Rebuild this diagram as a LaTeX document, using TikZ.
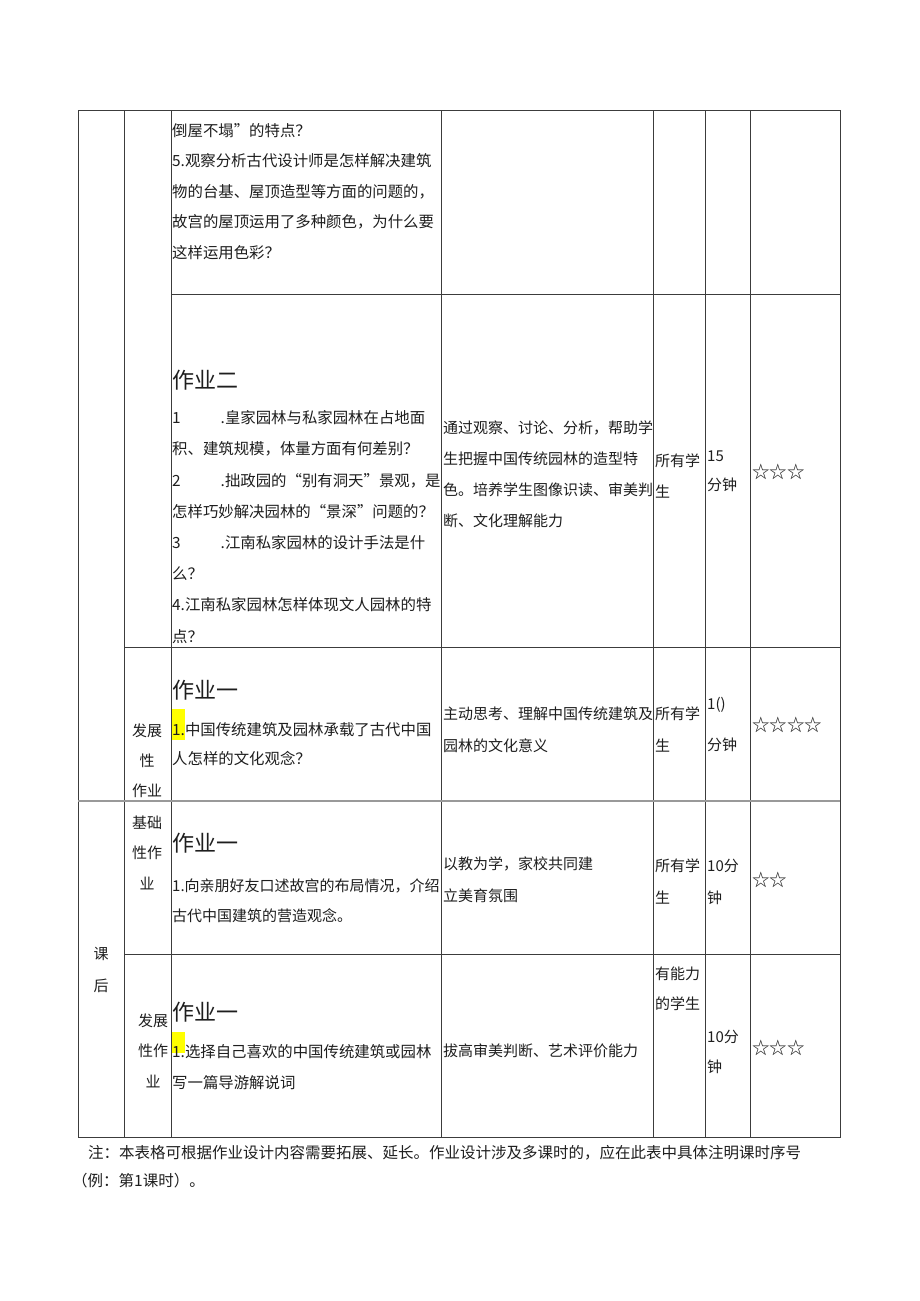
\documentclass[tikz,border=0pt]{standalone}
\usepackage{fontspec}
\setmainfont{Noto Sans CJK SC}
\definecolor{ink}{HTML}{1E1E1E}
\definecolor{rule}{HTML}{3C3C3C}
\definecolor{hilite}{HTML}{FFFF00}
\tikzset{
  cell/.style={anchor=base west, align=left, inner sep=0pt, text=ink,
    font=\fontsize{15}{31}\selectfont},
  lead/.style={font=\fontsize{15}{#1}\selectfont},
  task/.style={font=\fontsize{15.4}{#1}\selectfont},
  side/.style={anchor=base, align=center, inner sep=0pt, text=ink,
    font=\fontsize{15}{30.5}\selectfont},
  head/.style={anchor=base west, inner sep=0pt, text=ink,
    font=\fontsize{22}{24}\selectfont},
  rate/.style={anchor=base west, inner sep=0pt, text=ink,
    font=\fontsize{17.5}{20}\selectfont},
  grid/.style={draw=rule, line width=1pt}
}
\begin{document}
\begin{tikzpicture}[x=1pt, y=-1pt]
  \useasboundingbox (0,0) rectangle (920,1301);
  \fill[white] (0,0) rectangle (920,1301);
  % highlights
  \fill[fill=hilite] (172,709) rectangle (185,740);
  \fill[fill=hilite] (172,1032) rectangle (185,1053);
  % table rules
  \draw[grid] (78,110) rectangle (840,1137);
  \foreach \x in {124,171,441,653,705,750}
    \draw[grid] (\x,110) -- (\x,1137);
  \draw[grid] (171,294) -- (840,294);
  \draw[grid] (124,647) -- (840,647);
  \draw[draw=gray!80, line width=2pt] (78,801) -- (840,801);
  \draw[grid] (124,954) -- (840,954);

  % first row
  \node[cell, task=30.5] (q5) at (172,258)
    {倒屋不塌”的特点？\\5.观察分析古代设计师是怎样解决建筑\\物的台基、屋顶造型等方面的问题的，\\故宫的屋顶运用了多种颜色，为什么要\\这样运用色彩？};

  % second row
  \node[head] (h2) at (172,388) {作业二};
  \node[cell, task=31.2] (q2) at (172,642)
    {1\hspace{40pt}.皇家园林与私家园林在占地面\\积、建筑规模，体量方面有何差别？\\2\hspace{40pt}.拙政园的“别有洞天”景观，是\\怎样巧妙解决园林的“景深”问题的？\\3\hspace{40pt}.江南私家园林的设计手法是什\\么？\\4.江南私家园林怎样体现文人园林的特\\点？};
  \node[cell, lead=30.7] (g2) at (443,526)
    {通过观察、讨论、分析，帮助学\\生把握中国传统园林的造型特\\色。培养学生图像识读、审美判\\断、文化理解能力};
  \node[cell] (w2) at (655,497) {所有学\\生};
  \node[cell, lead=29] (t2) at (707,490) {15\\分钟};
  \node[rate] (s2) at (752,478) {☆☆☆};

  % third row
  \node[side, lead=30] (k3) at (147,796) {发展\\性\\作业};
  \node[head] (h3) at (172,698) {作业一};
  \node[cell, task=29.5] (q3) at (172,764.5)
    {1.中国传统建筑及园林承载了古代中国\\人怎样的文化观念？};
  \node[cell, lead=32] (g3) at (443,751) {主动思考、理解中国传统建筑及\\园林的文化意义};
  \node[cell, lead=32] (w3) at (655,751) {所有学\\生};
  \node[cell, lead=41] (t3) at (707,750) {1()\\分钟};
  \node[rate] (s3) at (752,731) {☆☆☆☆};

  % after class
  \node[side, lead=32] (kh) at (101,991) {课\\后};

  \node[side] (k4) at (147,889) {基础\\性作\\业};
  \node[head] (h4) at (172,851) {作业一};
  \node[cell, lead=30] (q4) at (172,921)
    {1.向亲朋好友口述故宫的布局情况，介绍\\古代中国建筑的营造观念。};
  \node[cell, lead=32] (g4) at (443,901) {以教为学，家校共同建\\立美育氛围};
  \node[cell, lead=32] (w4) at (655,903) {所有学\\生};
  \node[cell, lead=32] (t4) at (707,903) {10分\\钟};
  \node[rate] (s4) at (752,886) {☆☆};

  \node[side] (k5) at (153,1087) {发展\\性作\\业};
  \node[head] (h5) at (172,1020) {作业一};
  \node[cell, task=31] (q5b) at (172,1088)
    {1.选择自己喜欢的中国传统建筑或园林\\写一篇导游解说词};
  \node[cell] (g5) at (443,1056) {拔高审美判断、艺术评价能力};
  \node[cell, lead=30] (w5) at (655,1009) {有能力\\的学生};
  \node[cell, lead=30] (t5) at (707,1072) {10分\\钟};
  \node[rate] (s5) at (752,1054) {☆☆☆};

  % note
  \node[cell, font=\fontsize{15.5}{28}\selectfont] (nb) at (88,1158)
    {注：本表格可根据作业设计内容需要拓展、延长。作业设计涉及多课时的，应在此表中具体注明课时序号};
  \node[cell, font=\fontsize{15.5}{28}\selectfont] (nb2) at (72,1186)
    {（例：第1课时）。};
\end{tikzpicture}
\end{document}
